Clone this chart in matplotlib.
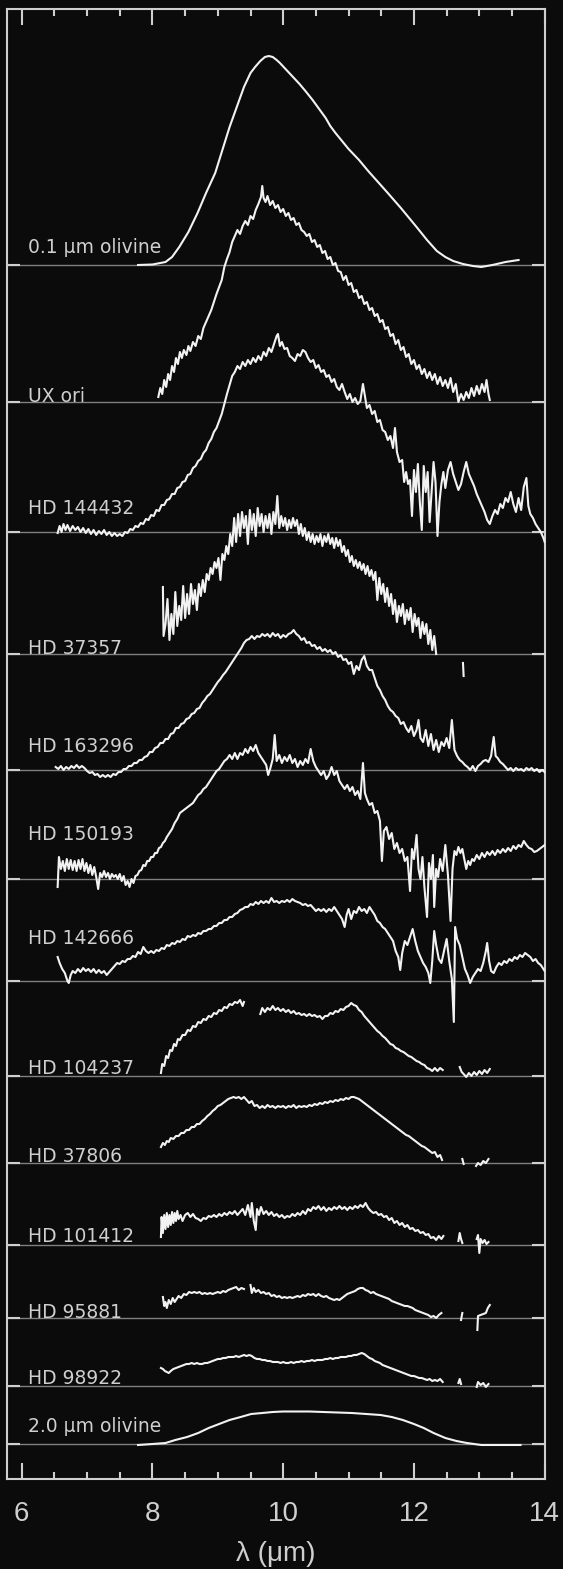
import numpy as np
import matplotlib
matplotlib.use("Agg")
import matplotlib.pyplot as plt

NAN = float("nan")

# ---------------- data (wavelength in micron, relative flux above each baseline) -------------
names = ["0.1 μm olivine", "UX ori", "HD 144432", "HD 37357", "HD 163296", "HD 150193",
         "HD 142666", "HD 104237", "HD 37806", "HD 101412", "HD 95881", "HD 98922",
         "2.0 μm olivine"]

olivine_01 = [(7.78, 0), (8.0, 0.5), (8.2, 3), (8.3, 8), (8.41, 18), (8.55, 33), (8.69, 52),
              (8.82, 72), (8.96, 92), (9.07, 115), (9.18, 138), (9.29, 158), (9.40, 178),
              (9.50, 192), (9.57, 198), (9.65, 204), (9.72, 208), (9.78, 209), (9.84, 208),
              (9.90, 205), (9.95, 202), (10.05, 195), (10.15, 188), (10.25, 181), (10.34, 174),
              (10.45, 165), (10.55, 156), (10.65, 147), (10.72, 139), (10.80, 132), (10.90, 124),
              (11.0, 116), (11.16, 105), (11.3, 94), (11.45, 83), (11.6, 72), (11.8, 57),
              (12.04, 38), (12.2, 25), (12.35, 14), (12.48, 8), (12.6, 4), (12.75, 1),
              (12.9, -1), (13.03, -2), (13.2, 0), (13.4, 3), (13.6, 5)]

ux_ori = [(8.09, 5), (8.12, 14), (8.15, 8), (8.18, 22), (8.21, 15), (8.24, 28), (8.27, 22),
          (8.30, 36), (8.33, 30), (8.36, 44), (8.39, 38), (8.42, 50), (8.45, 44), (8.48, 52),
          (8.52, 47), (8.55, 56), (8.58, 51), (8.62, 60), (8.66, 56), (8.70, 66), (8.74, 63),
          (8.78, 74), (8.82, 80), (8.86, 86), (8.90, 92), (8.94, 100), (8.98, 108), (9.02, 115),
          (9.06, 122), (9.10, 135), (9.14, 143), (9.18, 150), (9.22, 160), (9.26, 166),
          (9.30, 172), (9.34, 168), (9.38, 176), (9.42, 181), (9.46, 177), (9.50, 186),
          (9.54, 183), (9.58, 192), (9.62, 198), (9.66, 205), (9.68, 216), (9.70, 204),
          (9.73, 200), (9.76, 206), (9.80, 197), (9.84, 201), (9.88, 194), (9.92, 197),
          (9.96, 190), (10.00, 193), (10.04, 186), (10.08, 189), (10.12, 182), (10.16, 184),
          (10.20, 177), (10.24, 179), (10.28, 172), (10.32, 170), (10.36, 166), (10.40, 168),
          (10.44, 160), (10.48, 162), (10.52, 155), (10.56, 157), (10.60, 149), (10.64, 151),
          (10.68, 143), (10.72, 145), (10.76, 137), (10.80, 139), (10.84, 131), (10.88, 130),
          (10.92, 122), (10.96, 126), (11.00, 117), (11.04, 119), (11.08, 110), (11.12, 112),
          (11.16, 104), (11.20, 106), (11.24, 98), (11.28, 100), (11.32, 92), (11.36, 94),
          (11.40, 86), (11.44, 88), (11.48, 80), (11.52, 82), (11.56, 73), (11.60, 75),
          (11.64, 66), (11.68, 68), (11.72, 58), (11.76, 62), (11.80, 52), (11.84, 55),
          (11.88, 45), (11.92, 48), (11.96, 38), (12.00, 42), (12.04, 33), (12.08, 37),
          (12.12, 28), (12.16, 33), (12.20, 24), (12.24, 30), (12.28, 22), (12.32, 28),
          (12.36, 18), (12.40, 25), (12.44, 16), (12.48, 22), (12.52, 14), (12.56, 24),
          (12.60, 10), (12.64, 18), (12.68, 0), (12.72, 8), (12.76, 2), (12.80, 10),
          (12.84, 4), (12.88, 14), (12.92, 6), (12.96, 16), (13.00, 8), (13.04, 18),
          (13.08, 10), (13.11, 22), (13.14, 8), (13.16, 2)]

hd144432 = [(6.55, -1), (6.58, 6), (6.61, 0), (6.64, 8), (6.67, 2), (6.70, 7), (6.74, 1),
            (6.78, 6), (6.82, 2), (6.86, 5), (6.90, 0), (6.94, 4), (6.98, -1), (7.02, 3),
            (7.06, -2), (7.10, 2), (7.14, -3), (7.18, 1), (7.22, -2), (7.26, 2), (7.30, -3),
            (7.34, 0), (7.38, -4), (7.42, -1), (7.46, -4), (7.50, -2), (7.54, -4), (7.58, 0),
            (7.62, -1), (7.66, 3), (7.70, 2), (7.74, 6), (7.78, 5), (7.82, 9), (7.86, 8),
            (7.90, 13), (7.94, 12), (7.98, 17), (8.02, 16), (8.06, 22), (8.10, 21), (8.14, 27),
            (8.18, 27), (8.22, 32), (8.26, 33), (8.30, 38), (8.34, 38), (8.38, 44), (8.42, 45),
            (8.46, 50), (8.50, 51), (8.54, 57), (8.58, 58), (8.62, 64), (8.66, 66), (8.70, 71),
            (8.74, 73), (8.78, 79), (8.82, 82), (8.86, 89), (8.90, 93), (8.94, 100),
            (8.98, 104), (9.02, 111), (9.06, 118), (9.10, 128), (9.14, 138), (9.18, 147),
            (9.22, 156), (9.26, 160), (9.30, 166), (9.34, 163), (9.38, 170), (9.42, 166),
            (9.46, 172), (9.50, 168), (9.54, 174), (9.58, 170), (9.62, 176), (9.66, 172),
            (9.70, 180), (9.74, 176), (9.78, 184), (9.82, 180), (9.86, 188), (9.90, 196),
            (9.92, 198), (9.95, 186), (9.98, 190), (10.02, 183), (10.06, 184), (10.10, 176),
            (10.14, 174), (10.18, 171), (10.22, 178), (10.26, 176), (10.30, 182), (10.34, 180),
            (10.38, 174), (10.42, 170), (10.46, 172), (10.50, 164), (10.54, 167), (10.58, 160),
            (10.62, 162), (10.66, 155), (10.70, 157), (10.74, 150), (10.78, 153), (10.82, 145),
            (10.86, 142), (10.90, 148), (10.94, 140), (10.98, 133), (11.02, 138), (11.06, 130),
            (11.10, 134), (11.14, 128), (11.18, 131), (11.22, 148), (11.25, 136), (11.28, 124),
            (11.32, 127), (11.36, 118), (11.40, 121), (11.44, 110), (11.48, 112), (11.52, 102),
            (11.56, 100), (11.60, 92), (11.64, 96), (11.68, 84), (11.71, 104), (11.74, 80),
            (11.78, 70), (11.82, 72), (11.85, 50), (11.88, 60), (11.91, 48), (11.94, 52),
            (11.97, 16), (12.00, 62), (12.03, 40), (12.06, 68), (12.09, 30), (12.12, 2),
            (12.15, 66), (12.18, 40), (12.21, 60), (12.24, 10), (12.27, 40), (12.30, 70),
            (12.33, 50), (12.36, -4), (12.39, 30), (12.42, 48), (12.45, 60), (12.48, 44),
            (12.52, 62), (12.56, 70), (12.60, 58), (12.64, 50), (12.68, 42), (12.72, 48),
            (12.76, 60), (12.80, 70), (12.84, 58), (12.88, 52), (12.92, 46), (12.96, 38),
            (13.00, 32), (13.04, 26), (13.08, 20), (13.12, 12), (13.16, 8), (13.20, 16),
            (13.24, 22), (13.28, 18), (13.32, 28), (13.36, 24), (13.40, 34), (13.44, 30),
            (13.48, 40), (13.52, 28), (13.56, 20), (13.60, 34), (13.64, 22), (13.68, 45),
            (13.72, 54), (13.75, 26), (13.78, 18), (13.82, 14), (13.86, 8), (13.90, 4),
            (13.94, 0), (13.98, -6), (14.00, -10)]

hd37357 = [(8.16, 67), (8.17, 18), (8.20, 30), (8.23, 55), (8.26, 14), (8.29, 40), (8.32, 20),
           (8.35, 62), (8.38, 28), (8.41, 48), (8.44, 34), (8.47, 68), (8.50, 36), (8.53, 60),
           (8.56, 40), (8.59, 70), (8.62, 50), (8.65, 64), (8.68, 44), (8.71, 70), (8.74, 58),
           (8.77, 74), (8.80, 62), (8.83, 80), (8.86, 74), (8.89, 86), (8.92, 80), (8.95, 92),
           (8.98, 86), (9.01, 96), (9.04, 74), (9.07, 100), (9.10, 94), (9.13, 108),
           (9.16, 100), (9.19, 120), (9.22, 108), (9.25, 136), (9.28, 112), (9.31, 140),
           (9.34, 118), (9.37, 142), (9.40, 126), (9.43, 138), (9.46, 110), (9.49, 144),
           (9.52, 124), (9.55, 140), (9.58, 118), (9.61, 146), (9.64, 128), (9.67, 140),
           (9.70, 122), (9.73, 138), (9.76, 126), (9.79, 140), (9.82, 120), (9.85, 142),
           (9.88, 130), (9.91, 158), (9.94, 126), (9.97, 138), (10.00, 128), (10.03, 136),
           (10.06, 124), (10.09, 134), (10.12, 126), (10.15, 136), (10.18, 128), (10.21, 134),
           (10.24, 120), (10.27, 130), (10.30, 118), (10.33, 126), (10.36, 114), (10.39, 122),
           (10.42, 112), (10.45, 120), (10.48, 110), (10.51, 118), (10.54, 112), (10.57, 120),
           (10.60, 108), (10.63, 118), (10.66, 112), (10.69, 120), (10.72, 110), (10.75, 116),
           (10.78, 106), (10.81, 116), (10.84, 108), (10.87, 114), (10.90, 102), (10.93, 108),
           (10.96, 98), (10.99, 104), (11.02, 92), (11.05, 98), (11.08, 88), (11.11, 94),
           (11.14, 86), (11.17, 92), (11.20, 84), (11.23, 90), (11.26, 80), (11.29, 88),
           (11.32, 78), (11.35, 84), (11.38, 74), (11.41, 82), (11.44, 54), (11.47, 76),
           (11.50, 60), (11.53, 70), (11.56, 52), (11.59, 66), (11.62, 48), (11.65, 60),
           (11.68, 40), (11.71, 54), (11.74, 32), (11.77, 48), (11.80, 38), (11.83, 50),
           (11.86, 30), (11.89, 44), (11.92, 34), (11.95, 46), (11.98, 22), (12.01, 40),
           (12.04, 28), (12.07, 36), (12.10, 16), (12.13, 32), (12.16, 20), (12.19, 30),
           (12.22, 10), (12.25, 24), (12.28, 4), (12.31, 18), (12.34, 0), (12.50, NAN),
           (12.75, -9), (12.76, -22)]

hd163296 = [(6.52, 3), (6.56, 1), (6.60, 4), (6.64, 0), (6.68, 3), (6.72, 1), (6.76, 4),
            (6.80, 2), (6.84, 5), (6.88, 2), (6.92, 4), (6.96, 2), (7.00, -1), (7.04, -3),
            (7.08, -2), (7.12, -5), (7.16, -4), (7.20, -7), (7.24, -5), (7.28, -7), (7.32, -5),
            (7.36, -7), (7.40, -4), (7.44, -5), (7.48, -2), (7.52, -2), (7.56, 1), (7.60, 1),
            (7.64, 4), (7.68, 4), (7.72, 7), (7.76, 7), (7.80, 10), (7.84, 10), (7.88, 13),
            (7.92, 14), (7.96, 18), (8.00, 18), (8.04, 22), (8.08, 23), (8.12, 27), (8.16, 27),
            (8.20, 31), (8.24, 31), (8.28, 36), (8.32, 37), (8.36, 42), (8.40, 42), (8.44, 46),
            (8.48, 47), (8.52, 51), (8.56, 52), (8.60, 56), (8.64, 57), (8.68, 61), (8.72, 62),
            (8.76, 67), (8.80, 70), (8.84, 74), (8.88, 76), (8.92, 80), (8.96, 84), (9.00, 88),
            (9.04, 91), (9.08, 95), (9.12, 98), (9.16, 102), (9.20, 106), (9.24, 110),
            (9.28, 114), (9.32, 118), (9.36, 122), (9.40, 127), (9.44, 130), (9.48, 131),
            (9.52, 134), (9.56, 131), (9.60, 134), (9.64, 133), (9.68, 136), (9.72, 134),
            (9.76, 136), (9.80, 133), (9.84, 137), (9.88, 134), (9.92, 136), (9.96, 132),
            (10.00, 135), (10.04, 133), (10.08, 136), (10.12, 137), (10.16, 140), (10.20, 136),
            (10.24, 134), (10.28, 130), (10.32, 132), (10.36, 127), (10.40, 128), (10.44, 124),
            (10.48, 125), (10.52, 121), (10.56, 123), (10.60, 119), (10.64, 121), (10.68, 118),
            (10.72, 120), (10.76, 116), (10.80, 118), (10.84, 113), (10.88, 115), (10.92, 110),
            (10.96, 111), (11.00, 106), (11.04, 108), (11.08, 96), (11.12, 104), (11.16, 100),
            (11.20, 110), (11.24, 114), (11.28, 104), (11.32, 100), (11.36, 100), (11.40, 92),
            (11.44, 84), (11.48, 80), (11.52, 74), (11.56, 70), (11.60, 64), (11.64, 60),
            (11.68, 58), (11.72, 54), (11.76, 52), (11.80, 46), (11.84, 48), (11.88, 42),
            (11.92, 38), (11.96, 44), (12.00, 34), (12.04, 40), (12.07, 50), (12.10, 32),
            (12.14, 28), (12.18, 40), (12.22, 24), (12.26, 36), (12.30, 20), (12.34, 30),
            (12.38, 18), (12.42, 28), (12.46, 24), (12.50, 32), (12.54, 22), (12.58, 50),
            (12.62, 20), (12.66, 14), (12.70, 10), (12.74, 8), (12.78, 5), (12.82, 3),
            (12.86, 0), (12.90, 4), (12.94, -1), (12.98, 4), (13.02, 6), (13.06, 9),
            (13.10, 10), (13.14, 8), (13.18, 14), (13.22, 33), (13.25, 14), (13.28, 12),
            (13.32, 8), (13.36, 6), (13.40, 3), (13.44, 0), (13.48, 2), (13.52, -1), (13.56, 2),
            (13.60, 0), (13.64, 1), (13.68, -1), (13.72, 2), (13.76, 0), (13.80, 2),
            (13.84, -1), (13.88, 1), (13.92, -2), (13.96, 0), (14.00, -2)]

hd150193 = [(6.55, -8), (6.57, 22), (6.60, 10), (6.63, 18), (6.66, 8), (6.69, 20), (6.72, 10),
            (6.75, 19), (6.78, 9), (6.81, 18), (6.84, 8), (6.87, 19), (6.90, 10), (6.93, 20),
            (6.96, 8), (6.99, 16), (7.02, 6), (7.05, 14), (7.08, 4), (7.11, 12), (7.14, 2),
            (7.17, -10), (7.20, 6), (7.23, 2), (7.26, 8), (7.29, 2), (7.32, 6), (7.35, 0),
            (7.38, 5), (7.41, 2), (7.44, 4), (7.47, 0), (7.50, 5), (7.53, -2), (7.56, 3),
            (7.59, -6), (7.62, -2), (7.65, -8), (7.68, 0), (7.71, -4), (7.74, 3), (7.77, 4),
            (7.80, 8), (7.83, 9), (7.86, 14), (7.89, 13), (7.92, 18), (7.95, 18), (7.98, 22),
            (8.01, 22), (8.04, 26), (8.07, 26), (8.10, 31), (8.13, 32), (8.16, 36), (8.19, 38),
            (8.22, 42), (8.26, 46), (8.30, 50), (8.34, 56), (8.38, 60), (8.42, 66), (8.46, 68),
            (8.50, 70), (8.54, 72), (8.58, 74), (8.62, 76), (8.66, 80), (8.70, 84), (8.74, 86),
            (8.78, 90), (8.82, 92), (8.86, 96), (8.90, 100), (8.94, 104), (8.98, 108),
            (9.02, 110), (9.06, 114), (9.10, 118), (9.14, 120), (9.18, 124), (9.22, 120),
            (9.26, 126), (9.30, 120), (9.34, 126), (9.38, 124), (9.42, 130), (9.46, 126),
            (9.50, 132), (9.54, 128), (9.58, 134), (9.62, 126), (9.66, 122), (9.70, 118),
            (9.74, 114), (9.77, 104), (9.80, 110), (9.84, 120), (9.87, 144), (9.90, 118),
            (9.94, 124), (9.98, 116), (10.02, 122), (10.06, 118), (10.10, 124), (10.14, 116),
            (10.18, 120), (10.22, 112), (10.26, 118), (10.30, 114), (10.34, 120), (10.38, 116),
            (10.42, 130), (10.46, 118), (10.50, 112), (10.54, 108), (10.58, 104), (10.62, 108),
            (10.66, 100), (10.70, 104), (10.74, 112), (10.78, 104), (10.82, 108), (10.86, 98),
            (10.90, 94), (10.94, 90), (10.98, 94), (11.02, 88), (11.06, 92), (11.10, 84),
            (11.14, 88), (11.18, 80), (11.22, 116), (11.25, 86), (11.28, 80), (11.32, 74),
            (11.36, 76), (11.40, 66), (11.44, 68), (11.48, 58), (11.51, 18), (11.54, 48),
            (11.58, 52), (11.62, 40), (11.66, 46), (11.70, 30), (11.74, 36), (11.78, 26),
            (11.82, 30), (11.86, 18), (11.90, 22), (11.94, -12), (11.97, 30), (12.00, 20),
            (12.04, 44), (12.07, 10), (12.10, 0), (12.13, 22), (12.16, -8), (12.20, -38),
            (12.23, 16), (12.26, 0), (12.29, 24), (12.31, -28), (12.34, 10), (12.37, 2),
            (12.40, 20), (12.44, 8), (12.48, 34), (12.52, 4), (12.56, -42), (12.59, 10),
            (12.62, 28), (12.65, 24), (12.68, 32), (12.71, 26), (12.74, 30), (12.77, 20),
            (12.80, 10), (12.83, 18), (12.86, 14), (12.89, 20), (12.92, 18), (12.96, 24),
            (13.00, 20), (13.04, 26), (13.08, 22), (13.12, 27), (13.16, 24), (13.20, 28),
            (13.24, 24), (13.28, 29), (13.32, 26), (13.36, 30), (13.40, 27), (13.44, 31),
            (13.48, 28), (13.52, 33), (13.56, 30), (13.60, 34), (13.64, 32), (13.68, 38),
            (13.72, 34), (13.76, 31), (13.80, 30), (13.84, 27), (13.88, 28), (13.92, 30),
            (13.96, 32), (14.00, 34)]

hd142666 = [(6.55, 24), (6.58, 18), (6.62, 12), (6.66, 8), (6.70, 0), (6.72, -2), (6.75, 6),
            (6.78, 10), (6.82, 8), (6.86, 12), (6.90, 9), (6.94, 13), (6.98, 10), (7.02, 12),
            (7.06, 9), (7.10, 12), (7.14, 8), (7.18, 11), (7.22, 8), (7.26, 10), (7.30, 6),
            (7.34, 9), (7.38, 12), (7.42, 15), (7.46, 18), (7.50, 17), (7.54, 20), (7.58, 19),
            (7.62, 22), (7.66, 22), (7.70, 25), (7.74, 24), (7.78, 29), (7.82, 27), (7.86, 34),
            (7.90, 30), (7.94, 28), (7.98, 30), (8.02, 28), (8.06, 31), (8.10, 30), (8.14, 33),
            (8.18, 32), (8.22, 36), (8.26, 35), (8.30, 38), (8.34, 37), (8.38, 40), (8.42, 39),
            (8.46, 42), (8.50, 41), (8.54, 45), (8.58, 44), (8.62, 46), (8.66, 45), (8.70, 48),
            (8.74, 47), (8.78, 50), (8.82, 50), (8.86, 52), (8.90, 52), (8.94, 55), (8.98, 55),
            (9.02, 58), (9.06, 58), (9.10, 61), (9.14, 61), (9.18, 64), (9.22, 64), (9.26, 67),
            (9.30, 68), (9.34, 71), (9.38, 72), (9.42, 74), (9.46, 74), (9.50, 77), (9.54, 76),
            (9.58, 79), (9.62, 77), (9.66, 80), (9.70, 78), (9.74, 80), (9.78, 78), (9.82, 83),
            (9.86, 79), (9.90, 80), (9.94, 78), (9.98, 80), (10.02, 79), (10.06, 81),
            (10.10, 79), (10.14, 82), (10.18, 80), (10.22, 79), (10.26, 78), (10.30, 76),
            (10.34, 77), (10.38, 75), (10.42, 76), (10.46, 73), (10.50, 70), (10.54, 72),
            (10.58, 70), (10.62, 72), (10.66, 69), (10.70, 72), (10.74, 70), (10.78, 74),
            (10.82, 70), (10.86, 66), (10.90, 62), (10.94, 54), (10.97, 66), (11.00, 72),
            (11.04, 62), (11.08, 70), (11.12, 68), (11.16, 74), (11.20, 70), (11.24, 72),
            (11.28, 68), (11.32, 74), (11.36, 70), (11.40, 66), (11.44, 60), (11.48, 58),
            (11.52, 54), (11.56, 52), (11.60, 48), (11.64, 44), (11.68, 40), (11.72, 30),
            (11.76, 24), (11.79, 11), (11.82, 28), (11.86, 40), (11.90, 36), (11.94, 44),
            (11.98, 52), (12.02, 40), (12.06, 30), (12.10, 24), (12.14, 18), (12.18, 14),
            (12.22, 8), (12.25, -2), (12.28, 20), (12.31, 50), (12.34, 36), (12.38, 22),
            (12.42, 18), (12.46, 30), (12.50, 42), (12.54, 20), (12.58, 2), (12.61, -41),
            (12.63, 54), (12.66, 42), (12.70, 36), (12.74, 24), (12.78, 12), (12.82, 6),
            (12.86, -2), (12.90, 4), (12.94, 8), (12.98, 12), (13.02, 10), (13.06, 18),
            (13.10, 30), (13.12, 38), (13.15, 20), (13.18, 10), (13.22, 8), (13.26, 14),
            (13.30, 18), (13.34, 16), (13.38, 20), (13.42, 18), (13.46, 22), (13.50, 20),
            (13.54, 24), (13.58, 22), (13.62, 26), (13.66, 24), (13.70, 28), (13.74, 26),
            (13.78, 24), (13.82, 20), (13.86, 22), (13.90, 18), (13.94, 16), (13.98, 12),
            (14.00, 10)]

hd104237 = [(8.13, 3), (8.15, 12), (8.18, 10), (8.21, 20), (8.24, 18), (8.27, 26), (8.30, 25),
            (8.33, 32), (8.36, 30), (8.39, 37), (8.42, 36), (8.46, 41), (8.50, 41), (8.54, 46),
            (8.58, 45), (8.62, 50), (8.66, 49), (8.70, 54), (8.74, 53), (8.78, 57), (8.82, 56),
            (8.86, 60), (8.90, 59), (8.94, 63), (8.98, 62), (9.02, 66), (9.06, 65), (9.10, 69),
            (9.14, 68), (9.18, 72), (9.22, 71), (9.26, 74), (9.30, 73), (9.34, 76), (9.38, 70),
            (9.40, 74), (9.50, NAN), (9.65, 62), (9.68, 68), (9.72, 64), (9.76, 68), (9.80, 66),
            (9.84, 70), (9.88, 66), (9.92, 68), (9.96, 65), (10.00, 67), (10.04, 64),
            (10.08, 66), (10.12, 63), (10.16, 65), (10.20, 62), (10.24, 63), (10.28, 61),
            (10.32, 62), (10.36, 60), (10.40, 62), (10.44, 60), (10.48, 61), (10.52, 59),
            (10.56, 60), (10.60, 57), (10.64, 60), (10.68, 60), (10.72, 63), (10.76, 62),
            (10.80, 65), (10.84, 64), (10.88, 67), (10.92, 66), (10.96, 69), (11.00, 70),
            (11.04, 73), (11.08, 71), (11.12, 70), (11.16, 66), (11.20, 64), (11.24, 60),
            (11.28, 57), (11.32, 54), (11.36, 51), (11.40, 48), (11.44, 45), (11.48, 43),
            (11.52, 40), (11.56, 38), (11.60, 35), (11.64, 32), (11.68, 31), (11.72, 28),
            (11.76, 27), (11.80, 25), (11.84, 24), (11.88, 22), (11.92, 20), (11.96, 19),
            (12.00, 17), (12.04, 15), (12.08, 14), (12.12, 12), (12.16, 11), (12.20, 8),
            (12.24, 7), (12.28, 5), (12.32, 8), (12.36, 5), (12.40, 8), (12.44, 6),
            (12.55, NAN), (12.70, 9), (12.73, 4), (12.76, 2), (12.80, -1), (12.84, 3),
            (12.88, 0), (12.92, 4), (12.96, 1), (13.00, 5), (13.04, 2), (13.08, 6), (13.12, 3),
            (13.16, 7)]

hd37806 = [(8.13, 16), (8.16, 20), (8.19, 18), (8.22, 22), (8.25, 21), (8.28, 25), (8.32, 24),
           (8.36, 27), (8.40, 27), (8.44, 30), (8.48, 30), (8.52, 33), (8.56, 33), (8.60, 36),
           (8.64, 36), (8.68, 39), (8.72, 39), (8.76, 42), (8.80, 44), (8.84, 47), (8.88, 49),
           (8.92, 52), (8.96, 54), (9.00, 57), (9.04, 58), (9.08, 60), (9.12, 62), (9.16, 64),
           (9.20, 65), (9.24, 66), (9.28, 65), (9.32, 66), (9.36, 64), (9.40, 66), (9.44, 63),
           (9.48, 60), (9.52, 62), (9.56, 57), (9.60, 58), (9.64, 55), (9.68, 57), (9.72, 55),
           (9.76, 58), (9.80, 56), (9.84, 57), (9.88, 55), (9.92, 57), (9.96, 56), (10.00, 57),
           (10.04, 55), (10.08, 57), (10.12, 56), (10.16, 58), (10.20, 55), (10.24, 57),
           (10.28, 56), (10.32, 57), (10.36, 56), (10.40, 58), (10.44, 57), (10.48, 59),
           (10.52, 58), (10.56, 60), (10.60, 59), (10.64, 61), (10.68, 60), (10.72, 62),
           (10.76, 61), (10.80, 63), (10.84, 62), (10.88, 64), (10.92, 63), (10.96, 65),
           (11.00, 64), (11.04, 66), (11.08, 66), (11.12, 65), (11.16, 64), (11.20, 62),
           (11.24, 60), (11.28, 58), (11.32, 56), (11.36, 54), (11.40, 52), (11.44, 50),
           (11.48, 48), (11.52, 46), (11.56, 44), (11.60, 42), (11.64, 40), (11.68, 38),
           (11.72, 36), (11.76, 34), (11.80, 32), (11.84, 30), (11.88, 28), (11.92, 27),
           (11.96, 25), (12.00, 23), (12.04, 21), (12.08, 19), (12.12, 17), (12.16, 16),
           (12.20, 14), (12.24, 12), (12.28, 10), (12.32, 11), (12.36, 6), (12.40, 8),
           (12.43, 3), (12.60, NAN), (12.74, 4), (12.76, -1), (12.85, NAN), (12.95, -3),
           (12.98, 0), (13.02, -2), (13.06, 2), (13.10, 0), (13.14, 4)]

hd101412 = [(8.13, 8), (8.14, 28), (8.16, 12), (8.18, 30), (8.20, 16), (8.22, 32), (8.24, 18),
            (8.26, 30), (8.28, 20), (8.30, 33), (8.32, 22), (8.34, 32), (8.36, 24), (8.38, 34),
            (8.40, 26), (8.43, 30), (8.46, 24), (8.50, 30), (8.54, 32), (8.58, 28), (8.62, 31),
            (8.66, 27), (8.70, 26), (8.74, 24), (8.78, 27), (8.82, 26), (8.86, 29), (8.90, 28),
            (8.94, 30), (8.98, 28), (9.02, 31), (9.06, 29), (9.10, 32), (9.14, 30), (9.18, 33),
            (9.22, 31), (9.26, 34), (9.30, 30), (9.34, 33), (9.38, 36), (9.42, 30), (9.46, 40),
            (9.50, 28), (9.52, 42), (9.55, 24), (9.58, 15), (9.60, 36), (9.63, 30), (9.66, 38),
            (9.70, 31), (9.74, 34), (9.78, 30), (9.82, 33), (9.86, 29), (9.90, 31), (9.94, 28),
            (9.98, 30), (10.02, 27), (10.06, 29), (10.10, 28), (10.14, 31), (10.18, 29),
            (10.22, 32), (10.26, 30), (10.30, 34), (10.34, 31), (10.38, 36), (10.42, 34),
            (10.46, 38), (10.50, 36), (10.54, 39), (10.58, 35), (10.62, 38), (10.66, 34),
            (10.70, 37), (10.74, 35), (10.78, 38), (10.82, 36), (10.86, 39), (10.90, 36),
            (10.94, 38), (10.98, 35), (11.02, 38), (11.06, 36), (11.10, 39), (11.14, 37),
            (11.18, 40), (11.22, 38), (11.26, 42), (11.30, 37), (11.34, 34), (11.38, 32),
            (11.42, 33), (11.46, 30), (11.50, 31), (11.54, 28), (11.58, 29), (11.62, 25),
            (11.66, 27), (11.70, 22), (11.74, 24), (11.78, 20), (11.82, 22), (11.86, 18),
            (11.90, 20), (11.94, 16), (11.98, 17), (12.02, 14), (12.06, 15), (12.10, 12),
            (12.14, 13), (12.18, 10), (12.22, 11), (12.26, 7), (12.30, 8), (12.34, 5),
            (12.38, 9), (12.42, 6), (12.45, 9), (12.55, NAN), (12.68, 4), (12.70, 12),
            (12.72, 6), (12.74, 2), (12.85, NAN), (12.96, 6), (12.98, 10), (13.00, -8),
            (13.02, 6), (13.05, 2), (13.08, 5), (13.11, 1), (13.14, 3)]

hd95881 = [(8.16, 21), (8.18, 12), (8.20, 16), (8.22, 10), (8.25, 18), (8.28, 14), (8.31, 20),
           (8.34, 16), (8.37, 19), (8.40, 22), (8.44, 20), (8.48, 24), (8.52, 23), (8.56, 26),
           (8.60, 25), (8.64, 26), (8.68, 25), (8.72, 26), (8.76, 24), (8.80, 25), (8.84, 24),
           (8.88, 25), (8.92, 24), (8.96, 25), (9.00, 26), (9.04, 25), (9.08, 27), (9.12, 26),
           (9.16, 28), (9.20, 29), (9.24, 30), (9.28, 31), (9.32, 28), (9.36, 30), (9.40, 29),
           (9.45, NAN), (9.50, 33), (9.52, 25), (9.55, 30), (9.58, 26), (9.62, 28), (9.66, 25),
           (9.70, 26), (9.74, 24), (9.78, 25), (9.82, 22), (9.86, 23), (9.90, 21), (9.94, 22),
           (9.98, 20), (10.02, 21), (10.06, 20), (10.10, 21), (10.14, 20), (10.18, 21),
           (10.22, 22), (10.26, 21), (10.30, 23), (10.34, 22), (10.38, 24), (10.42, 23),
           (10.46, 24), (10.50, 22), (10.54, 24), (10.58, 22), (10.62, 21), (10.66, 22),
           (10.70, 20), (10.74, 19), (10.78, 18), (10.82, 19), (10.86, 18), (10.90, 20),
           (10.94, 22), (10.98, 24), (11.02, 25), (11.06, 26), (11.10, 27), (11.14, 29),
           (11.18, 30), (11.22, 30), (11.26, 28), (11.30, 27), (11.34, 25), (11.38, 26),
           (11.42, 24), (11.46, 23), (11.50, 22), (11.54, 21), (11.58, 20), (11.62, 19),
           (11.66, 17), (11.70, 16), (11.74, 15), (11.78, 14), (11.82, 13), (11.86, 12),
           (11.90, 12), (11.94, 11), (11.98, 10), (12.02, 8), (12.06, 7), (12.10, 6),
           (12.14, 5), (12.18, 4), (12.22, 3), (12.26, 1), (12.30, 2), (12.34, 0), (12.38, 3),
           (12.42, 5), (12.55, NAN), (12.72, -2), (12.74, 5), (12.85, NAN), (12.97, -12),
           (12.98, 2), (13.02, 3), (13.06, 4), (13.10, 5), (13.13, 10), (13.16, 13)]

hd98922 = [(8.13, 18), (8.16, 17), (8.19, 15), (8.22, 14), (8.25, 13), (8.28, 15), (8.32, 17),
           (8.36, 18), (8.40, 19), (8.44, 20), (8.48, 21), (8.52, 22), (8.56, 22), (8.60, 23),
           (8.64, 22), (8.68, 23), (8.72, 22), (8.76, 22), (8.80, 23), (8.84, 23), (8.88, 24),
           (8.92, 25), (8.96, 26), (9.00, 27), (9.04, 27), (9.08, 28), (9.12, 28), (9.16, 29),
           (9.20, 29), (9.24, 29), (9.28, 30), (9.32, 29), (9.36, 30), (9.40, 31), (9.44, 30),
           (9.48, 31), (9.52, 30), (9.56, 28), (9.60, 27), (9.64, 27), (9.68, 26), (9.72, 26),
           (9.76, 25), (9.80, 25), (9.84, 24), (9.88, 24), (9.92, 24), (9.96, 23), (10.00, 24),
           (10.04, 23), (10.08, 23), (10.12, 24), (10.16, 23), (10.20, 24), (10.24, 24),
           (10.28, 25), (10.32, 24), (10.36, 25), (10.40, 25), (10.44, 26), (10.48, 25),
           (10.52, 26), (10.56, 26), (10.60, 26), (10.64, 27), (10.68, 27), (10.72, 28),
           (10.76, 27), (10.80, 28), (10.84, 28), (10.88, 29), (10.92, 29), (10.96, 29),
           (11.00, 30), (11.04, 30), (11.08, 31), (11.12, 31), (11.16, 32), (11.20, 33),
           (11.24, 32), (11.28, 30), (11.32, 28), (11.36, 27), (11.40, 25), (11.44, 24),
           (11.48, 23), (11.52, 21), (11.56, 20), (11.60, 19), (11.64, 18), (11.68, 17),
           (11.72, 16), (11.76, 15), (11.80, 14), (11.84, 13), (11.88, 12), (11.92, 11),
           (11.96, 10), (12.00, 10), (12.04, 9), (12.08, 8), (12.12, 8), (12.16, 7),
           (12.20, 6), (12.24, 7), (12.28, 5), (12.32, 6), (12.36, 5), (12.40, 7), (12.44, 4),
           (12.55, NAN), (12.68, 3), (12.70, 7), (12.72, 2), (12.85, NAN), (12.96, -1),
           (12.98, 4), (13.02, 1), (13.06, 3), (13.10, -1), (13.14, 2)]

olivine_20 = [(7.78, -1), (8.0, 0), (8.2, 1), (8.35, 4), (8.53, 7), (8.7, 11), (8.86, 16),
              (9.02, 20), (9.18, 24), (9.35, 27), (9.51, 30), (9.68, 31), (9.84, 32),
              (10.0, 32.5), (10.17, 32.5), (10.4, 32.5), (10.61, 32), (10.83, 31.5),
              (11.05, 31), (11.27, 30), (11.49, 29), (11.66, 27), (11.83, 24), (12.0, 20),
              (12.15, 16), (12.3, 11), (12.48, 6), (12.65, 3), (12.81, 1), (13.03, -1),
              (13.3, -1), (13.63, -1)]

spectra = [olivine_01, ux_ori, hd144432, hd37357, hd163296, hd150193, hd142666,
           hd104237, hd37806, hd101412, hd95881, hd98922, olivine_20]

# ---------------- layout ----------------
offsets = [1214, 1077, 947, 825, 709, 600, 498, 403, 316, 234, 161, 93, 35]
label_dy = [18, 6, 24, 6, 23, 44, 43, 8, 6, 8, 6, 8, 17]
xticks_major = [6, 8, 10, 12, 14]
xticks_minor = [6.5, 7, 7.5, 8.5, 9, 9.5, 10.5, 11, 11.5, 12.5, 13, 13.5]

BG = "#0b0b0b"
FG = "#cfcfcf"

W, H = 563, 1569
fig = plt.figure(figsize=(W / 100, H / 100), dpi=100, facecolor=BG)
ax = fig.add_axes([7.3 / W, 1 - 1479 / H, (544.7 - 7.3) / W, (1479 - 9) / H])
ax.set_facecolor(BG)
ax.set_xlim(5.78, 14.0)
ax.set_ylim(0, 1470)

for off in offsets:
    ax.axhline(off, color="#808080", lw=1.0, zorder=1)

for spec, off in zip(spectra, offsets):
    arr = np.array(spec, dtype=float)
    ax.plot(arr[:, 0], arr[:, 1] + off, color="#f2f2f2", lw=1.5, zorder=3,
            solid_joinstyle="round")

for name, off, dy in zip(names, offsets, label_dy):
    ax.text(6.096, off + dy, name, color=FG, fontsize=13.5, family="DejaVu Sans",
            ha="left", va="center", zorder=4)

ax.set_xticks(xticks_major)
ax.set_xticks(xticks_minor, minor=True)
ax.set_xticklabels([str(t) for t in xticks_major], family="Liberation Sans")
ax.tick_params(axis="x", which="major", direction="in", length=11.5, width=1.5,
               color=FG, top=True, bottom=True, labelsize=20, labelcolor=FG, pad=16)
ax.tick_params(axis="x", which="minor", direction="in", length=5, width=1.5,
               color=FG, top=True, bottom=True)
ax.set_yticks(offsets)
ax.set_yticklabels([])
ax.tick_params(axis="y", which="major", direction="in", length=9.5, width=1.5,
               color=FG, left=True, right=True)

for sp in ax.spines.values():
    sp.set_color(FG)
    sp.set_linewidth(1.5)

ax.set_xlabel("λ (μm)", color=FG, fontsize=20, family="Liberation Sans", labelpad=10)

fig.savefig("out.png", dpi=100, facecolor=BG)
